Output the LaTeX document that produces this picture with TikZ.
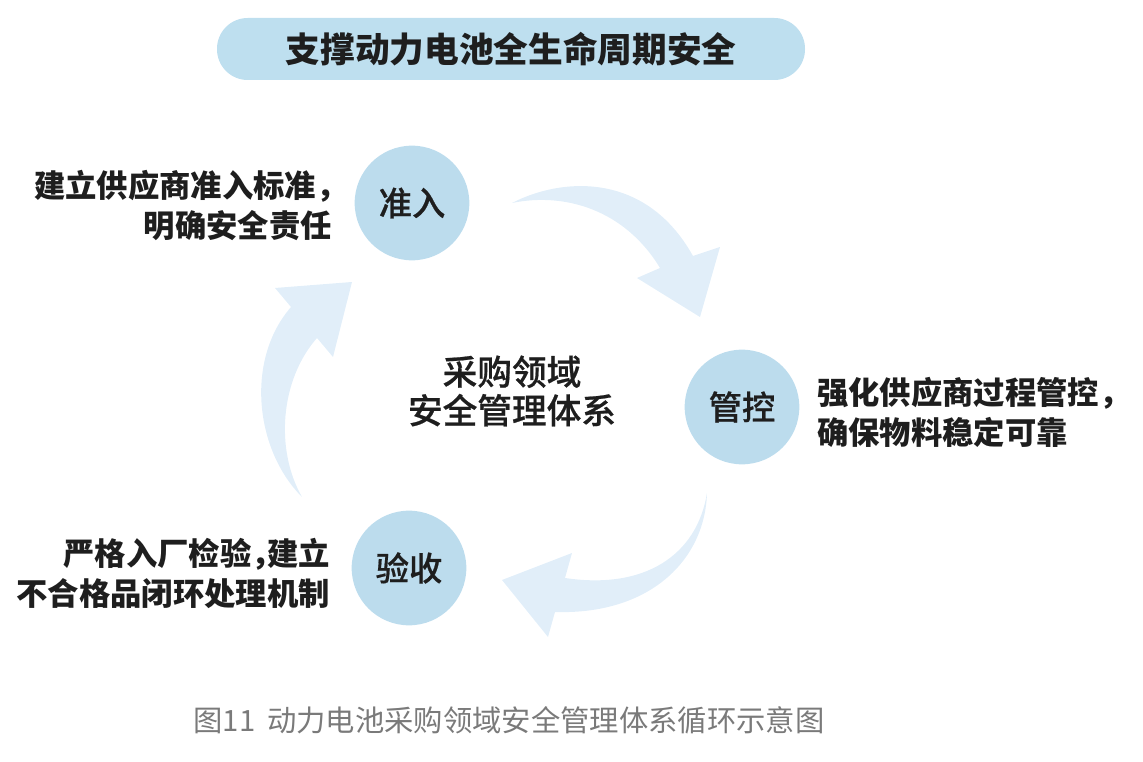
\documentclass[tikz,border=0pt]{standalone}
\usepackage{fontspec}
\setmainfont{Noto Sans CJK SC}
\newfontfamily\medfont{Noto Sans CJK SC Medium}[FakeBold=0.6]
\definecolor{banner}{HTML}{BEDFEF}
\definecolor{disc}{HTML}{BCDCED}
\definecolor{arrowfill}{HTML}{E1EEF9}
\definecolor{ink}{HTML}{1E1E1E}
\definecolor{capgray}{HTML}{7A7A7A}
\newcommand{\nc}{\makebox[0.5em][l]{，}}
\begin{document}
\begin{tikzpicture}[x=0.75pt,y=-0.75pt,
  titlebox/.style={fill=banner, rounded corners=23pt, minimum width=441pt, minimum height=46.5pt, inner sep=0pt, font=\fontsize{26}{30}\selectfont\bfseries, text=ink},
  stage/.style={circle, fill=disc, minimum size=86pt, inner sep=0pt, font=\medfont\fontsize{25}{30}\selectfont, text=ink},
  note/.style={font=\fontsize{23.5}{30}\selectfont\bfseries, text=ink, inner sep=0pt},
  core/.style={font=\medfont\fontsize{26}{29}\selectfont, text=ink, align=center, inner sep=0pt},
  cyclearrow/.style={fill=arrowfill, draw=none},
  caption/.style={font=\fontsize{22}{26}\selectfont, text=capgray, inner sep=0pt}]
\useasboundingbox (0,0) rectangle (1143,762);

% cycle arrows
\fill[cyclearrow] (512,203) .. controls (560,178) and (645,170) .. (693,256)
  -- (720,247) -- (700,317) -- (637,278) -- (660,268)
  .. controls (625,210) and (565,192) .. (512,203) -- cycle;
\fill[cyclearrow] (707,493) .. controls (705,560) and (650,615) .. (555,612)
  -- (548,637) -- (502,580) -- (572,553) -- (565,578)
  .. controls (645,590) and (697,555) .. (707,493) -- cycle;
\fill[cyclearrow] (302,497) .. controls (255,450) and (245,360) .. (291,307)
  -- (275,288) -- (352,282) -- (333,357) -- (317,338)
  .. controls (280,380) and (275,450) .. (302,497) -- cycle;

\node[titlebox] (title) at (511,49) {支撑动力电池全生命周期安全};

\node[stage] (admit) at (412,203) {准入};
\node[stage] (control) at (742,407) {管控};
\node[stage] (accept) at (409,568) {验收};

\node[core] (center) at (512,391) {采购领域\\安全管理体系};

\node[note, anchor=east, align=right] (admitnote) at (332,205) {建立供应商准入标准\nc\\明确安全责任};
\node[note, anchor=west, align=left] (controlnote) at (817,412) {强化供应商过程管控\nc\\确保物料稳定可靠};
\node[note, anchor=east, align=right] (acceptnote) at (330,573) {严格入厂检验\nc 建立\\不合格品闭环处理机制};

\node[caption] (cap) at (509,720) {图11\hspace{0.4em}动力电池采购领域安全管理体系循环示意图};
\end{tikzpicture}
\end{document}
